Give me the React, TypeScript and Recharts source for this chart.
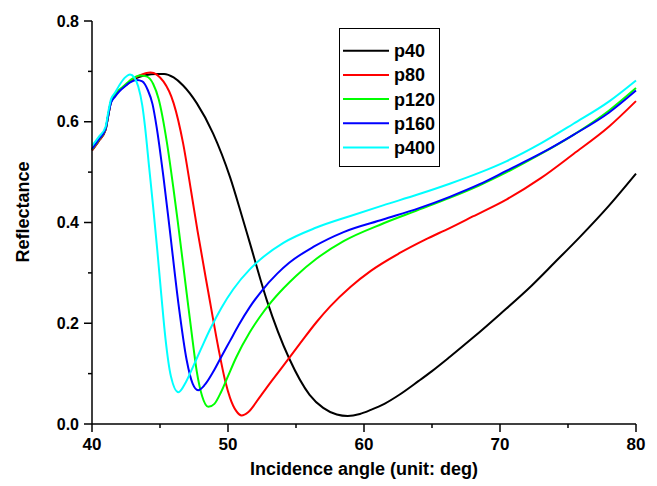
import React from 'react';
import { LineChart, Line, XAxis, YAxis, Legend } from 'recharts';

// incidence angle (deg) / reflectance pairs
const angleP40 = [40, 40.5, 41, 41.2, 41.4, 41.7, 42, 42.5, 43, 43.5, 44, 44.7, 45.3, 46, 46.7, 47.7, 48.9, 50.15, 51, 51.6, 52.85, 54.5, 56, 57, 58, 58.8, 59.7, 60.5, 61.5, 62.6, 64, 65, 66.3, 68, 70, 72.3, 74, 75.9, 78, 80];
const reflP40 = [0.543, 0.562, 0.584, 0.613, 0.64, 0.653, 0.662, 0.673, 0.683, 0.689, 0.693, 0.695, 0.695, 0.688, 0.672, 0.637, 0.577, 0.49, 0.415, 0.36, 0.246, 0.13, 0.058, 0.032, 0.019, 0.016, 0.02, 0.028, 0.04, 0.058, 0.085, 0.105, 0.133, 0.171, 0.218, 0.274, 0.32, 0.372, 0.433, 0.497];

const angleP80 = [40, 40.5, 41, 41.2, 41.4, 41.7, 42, 42.5, 43, 43.5, 44.3, 45.25, 46, 46.7, 47.3, 47.75, 48.55, 49.3, 49.8, 50.15, 50.6, 51, 51.5, 52.35, 53.2, 54.1, 55.3, 56.5, 57.5, 59, 60.5, 62.6, 64.5, 66.3, 68, 70.5, 73, 75.4, 78, 80];
const reflP80 = [0.543, 0.562, 0.584, 0.613, 0.64, 0.653, 0.662, 0.673, 0.684, 0.692, 0.698, 0.68, 0.637, 0.557, 0.46, 0.385, 0.262, 0.15, 0.085, 0.052, 0.026, 0.017, 0.024, 0.054, 0.085, 0.117, 0.16, 0.202, 0.233, 0.272, 0.304, 0.339, 0.366, 0.389, 0.412, 0.446, 0.488, 0.536, 0.59, 0.641];

const angleP120 = [40, 40.5, 41, 41.2, 41.4, 41.7, 42, 42.5, 43, 43.5, 44, 44.5, 44.9, 45.5, 46, 46.3, 46.96, 47.4, 47.7, 48.1, 48.55, 49, 49.5, 50, 50.6, 51.6, 52.35, 53.2, 54.1, 55, 56.5, 58.5, 61.4, 64, 66.3, 68.5, 70.5, 73, 75.4, 78, 80];
const reflP120 = [0.545, 0.564, 0.586, 0.615, 0.641, 0.654, 0.663, 0.675, 0.686, 0.692, 0.69, 0.675, 0.645, 0.56, 0.465, 0.403, 0.26, 0.165, 0.105, 0.055, 0.034, 0.04, 0.064, 0.095, 0.132, 0.182, 0.213, 0.243, 0.27, 0.294, 0.328, 0.363, 0.398, 0.425, 0.449, 0.474, 0.5, 0.536, 0.574, 0.622, 0.667];

const angleP160 = [40, 40.5, 41, 41.2, 41.4, 41.7, 42, 42.5, 42.8, 43.3, 43.7, 44.1, 44.45, 44.75, 45.25, 45.7, 46.35, 46.96, 47.4, 47.8, 48.3, 48.9, 49.5, 50.15, 50.8, 51.6, 52.5, 53.6, 54.5, 56.3, 58.5, 61.4, 64, 66.3, 68.5, 70.5, 73, 75.4, 78, 80];
const reflP160 = [0.546, 0.565, 0.586, 0.614, 0.638, 0.65, 0.66, 0.672, 0.678, 0.683, 0.68, 0.663, 0.635, 0.59, 0.491, 0.39, 0.24, 0.127, 0.08, 0.067, 0.078, 0.103, 0.133, 0.165, 0.197, 0.232, 0.265, 0.298, 0.32, 0.352, 0.381, 0.406, 0.428, 0.451, 0.476, 0.503, 0.537, 0.574, 0.618, 0.662];

const angleP400 = [40, 40.5, 41, 41.2, 41.4, 41.7, 42, 42.4, 42.8, 43.1, 43.4, 43.7, 43.9, 44.2, 44.5, 44.8, 45.1, 45.4, 45.8, 46.35, 46.9, 47.45, 48, 48.7, 49.5, 50.4, 51.6, 52.35, 54.1, 56.5, 59, 61.4, 64, 66.3, 68.5, 70.5, 73, 75.4, 78, 80];
const reflP400 = [0.552, 0.57, 0.59, 0.62, 0.645, 0.658, 0.672, 0.687, 0.694, 0.688, 0.67, 0.632, 0.59, 0.51, 0.43, 0.345, 0.255, 0.17, 0.095, 0.063, 0.083, 0.115, 0.148, 0.189, 0.23, 0.268, 0.307, 0.326, 0.36, 0.39, 0.413, 0.434, 0.456, 0.477, 0.499, 0.522, 0.557, 0.596, 0.64, 0.682];

const seriesNames = ['p40', 'p80', 'p120', 'p160', 'p400'];
const seriesColors = ['#000000', '#ff0000', '#00ff00', '#0000ff', '#00ffff'];
const xTicks = [40, 45, 50, 55, 60, 65, 70, 75, 80];
const yTicks = [0, 0.1, 0.2, 0.3, 0.4, 0.5, 0.6, 0.7, 0.8];

const toPoints = (angles: number[], refl: number[]) =>
  angles.map((a, i) => ({ angle: a, r: refl[i] }));

const seriesData = [
  toPoints(angleP40, reflP40),
  toPoints(angleP80, reflP80),
  toPoints(angleP120, reflP120),
  toPoints(angleP160, reflP160),
  toPoints(angleP400, reflP400),
];

const FONT = 'Arial, "Liberation Sans", sans-serif';

const XTick = (props: any) => {
  const { x, y, payload } = props;
  const major = payload.value % 10 === 0;
  return (
    <g>
      <line x1={x} y1={y} x2={x} y2={y + (major ? 8 : 4)} stroke="#000" strokeWidth={1.5} />
      {major && (
        <text x={x} y={y + 26} textAnchor="middle" fontSize={17} fontWeight="bold" fontFamily={FONT} fill="#000">
          {payload.value}
        </text>
      )}
    </g>
  );
};

const YTick = (props: any) => {
  const { x, y, payload } = props;
  const major = Math.round(payload.value * 10) % 2 === 0;
  return (
    <g>
      <line x1={x} y1={y} x2={x - (major ? 8 : 4)} y2={y} stroke="#000" strokeWidth={1.5} />
      {major && (
        <text x={x - 13} y={y + 5.5} textAnchor="end" fontSize={16} fontWeight="bold" fontFamily={FONT} fill="#000">
          {payload.value.toFixed(1)}
        </text>
      )}
    </g>
  );
};

const LegendBox = () => (
  <svg width={102} height={140} style={{ display: 'block' }}>
    <rect x={0.5} y={0.5} width={100} height={138} fill="#fff" stroke="#000" strokeWidth={1} />
    {seriesNames.map((n, i) => {
      const cy = 22.7 + i * 24.2;
      return (
        <g key={n}>
          <line x1={4} x2={50} y1={cy} y2={cy} stroke={seriesColors[i]} strokeWidth={2} />
          <text x={55} y={cy + 6.5} fontSize={18} fontWeight="bold" fontFamily={FONT} fill="#000">
            {n}
          </text>
        </g>
      );
    })}
  </svg>
);

export default function App() {
  return (
    <div style={{ position: 'absolute', left: 0, top: 0, background: '#fff' }}>
      <LineChart width={657} height={486} margin={{ top: 21, right: 21, bottom: 32, left: 32 }}>
        <XAxis
          type="number"
          dataKey="angle"
          domain={[40, 80]}
          ticks={xTicks}
          tick={<XTick />}
          tickLine={false}
          tickSize={0}
          tickMargin={0}
          height={30}
          axisLine={{ stroke: '#000', strokeWidth: 1.5 }}
          label={{
            content: () => (
              <text x={364} y={475} textAnchor="middle" fontSize={18} fontWeight="bold" fontFamily={FONT} fill="#000">
                Incidence angle (unit: deg)
              </text>
            ),
          }}
        />
        <YAxis
          type="number"
          domain={[0, 0.8]}
          ticks={yTicks}
          tick={<YTick />}
          tickLine={false}
          tickSize={0}
          tickMargin={0}
          width={60}
          axisLine={{ stroke: '#000', strokeWidth: 1.5 }}
          label={{
            content: () => (
              <text
                x={29}
                y={212}
                transform="rotate(-90 29 212)"
                textAnchor="middle"
                fontSize={18}
                fontWeight="bold"
                fontFamily={FONT}
                fill="#000"
              >
                Reflectance
              </text>
            ),
          }}
        />
        <Legend
          layout="horizontal"
          verticalAlign="middle"
          align="center"
          content={() => <LegendBox />}
          wrapperStyle={{ left: 339, top: 28, width: 102, height: 140 }}
        />
        {seriesData.map((d, i) => (
          <Line
            key={seriesNames[i]}
            data={d}
            dataKey="r"
            name={seriesNames[i]}
            type="monotone"
            stroke={seriesColors[i]}
            strokeWidth={2}
            dot={false}
            activeDot={false}
            isAnimationActive={false}
          />
        ))}
      </LineChart>
    </div>
  );
}
